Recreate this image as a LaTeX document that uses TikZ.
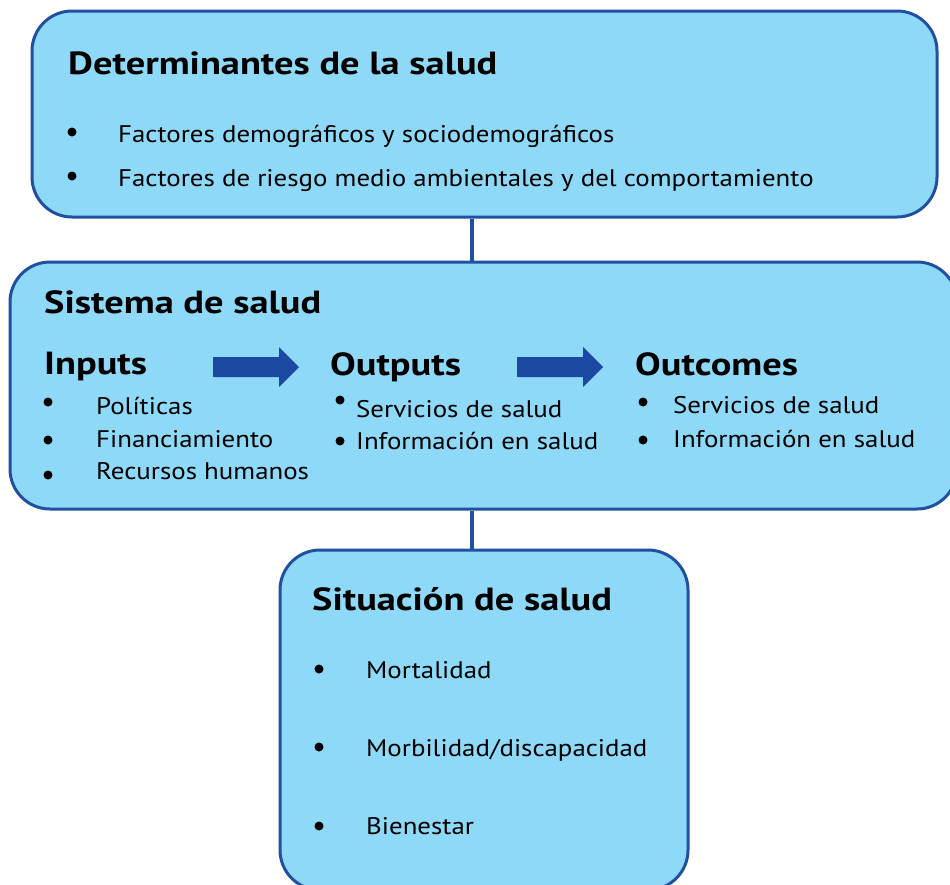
\documentclass[tikz,border=0pt]{standalone}
\usepackage{fontspec}
\setmainfont{PT Sans}[FakeStretch=1.12,BoldFeatures={FakeStretch=1.2}]
\definecolor{boxfill}{HTML}{8DD9F7}
\definecolor{boxline}{HTML}{2150A0}
\definecolor{arrowblue}{HTML}{1B48A0}
\begin{document}
\begin{tikzpicture}[x=1pt,y=-1pt,
  box/.style={draw=boxline,fill=boxfill,line width=3pt,rounded corners=40pt,inner sep=0pt,rectangle},
  head/.style={anchor=base west,inner sep=0pt,font=\fontsize{32}{36}\selectfont\bfseries},
  item/.style={anchor=base west,inner sep=0pt,font=\fontsize{24}{28}\selectfont},
  bul/.style={fill=black,circle,inner sep=0pt,minimum size=9pt},
  link/.style={draw=boxline,line width=4pt},
  blockarrow/.style={fill=arrowblue}]
\useasboundingbox (0,0) rectangle (950,884);
% boxes
\node[box,minimum width=905pt,minimum height=206pt] (top) at (484.5,114) {};
\node[box,minimum width=947pt,minimum height=247pt] (mid) at (483.5,385.5) {};
\node[box,minimum width=408pt,minimum height=340pt] (bot) at (484,720) {};
% connectors
\coordinate (cx) at (472,0);
\draw[link] (top.south -| cx) -- (mid.north -| cx);
\draw[link] (mid.south -| cx) -- (bot.north -| cx);
% top box text
\node[head] (t0) at (68,74) {Determinantes de la salud};
\node[bul] (tb1) at (72,132) {};
\node[bul] (tb2) at (72,176) {};
\node[item] (t1) at (118,142) {Factores demográficos y sociodemográficos};
\node[item] (t2) at (118,186) {Factores de riesgo medio ambientales y del comportamiento};
% middle box text
\node[head] (m0) at (44,313) {Sistema de salud};
\node[head] (in) at (44,374) {Inputs};
\node[head] (out) at (330,375) {Outputs};
\node[head] (oc) at (635,375) {Outcomes};
\node[bul] (ib1) at (48,402) {};
\node[bul] (ib2) at (48,440) {};
\node[bul] (ib3) at (48,475) {};
\node[item] (i1) at (96,414) {Políticas};
\node[item] (i2) at (96,447) {Financiamiento};
\node[item] (i3) at (96,479) {Recursos humanos};
\node[bul] (ob1) at (340,400) {};
\node[bul] (ob2) at (340,441) {};
\node[item] (o1) at (356,417) {Servicios de salud};
\node[item] (o2) at (356,449) {Información en salud};
\node[bul] (cb1) at (643,402) {};
\node[bul] (cb2) at (643,440) {};
\node[item] (c1) at (673,413) {Servicios de salud};
\node[item] (c2) at (673,447) {Información en salud};
% block arrows
\fill[blockarrow] (213,357) -- (279,357) -- (279,347) -- (299,367) -- (279,387) -- (279,377) -- (213,377) -- cycle;
\fill[blockarrow] (517,357) -- (583,357) -- (583,347) -- (603,367) -- (583,387) -- (583,377) -- (517,377) -- cycle;
% bottom box text
\node[head] (b0) at (312,610) {Situación de salud};
\node[bul] (bb1) at (319,669) {};
\node[bul] (bb2) at (319,747) {};
\node[bul] (bb3) at (319,826) {};
\node[item] (b1) at (366,678) {Mortalidad};
\node[item] (b2) at (366,756) {Morbilidad/discapacidad};
\node[item] (b3) at (366,834) {Bienestar};
\end{tikzpicture}
\end{document}
